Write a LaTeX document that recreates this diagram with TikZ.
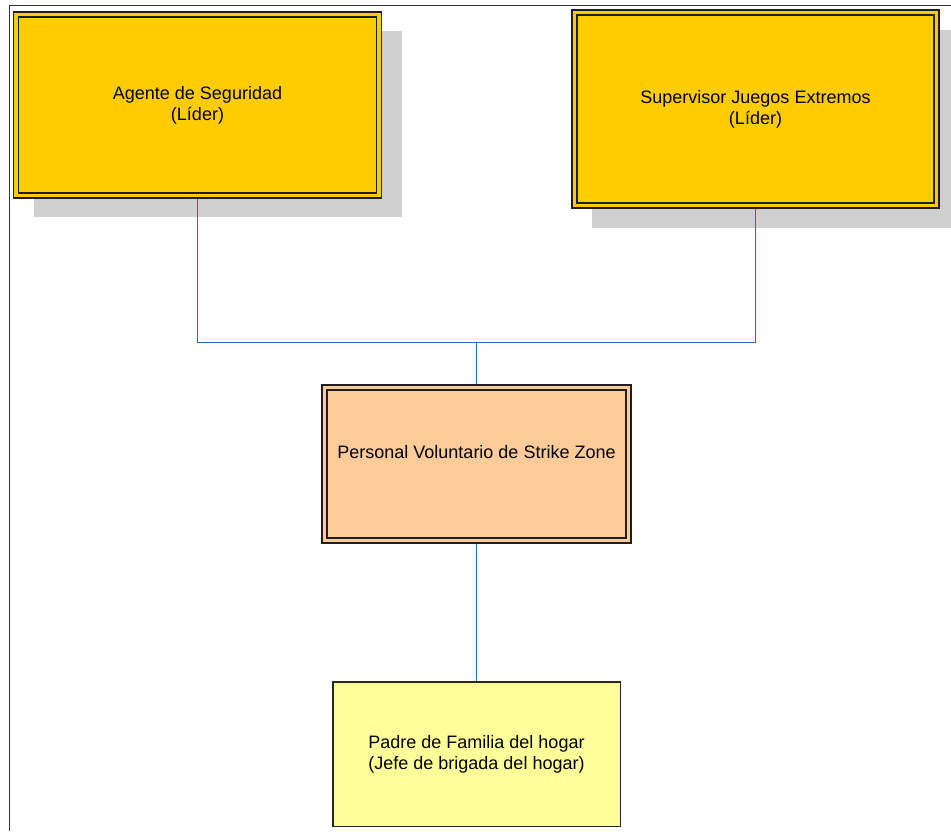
\documentclass[tikz,border=0pt]{standalone}
\usepackage{fontspec}
\setmainfont{Liberation Sans}
\usetikzlibrary{backgrounds,calc}

\definecolor{lidergold}{HTML}{FFCC00}
\definecolor{peach}{HTML}{FFCC99}
\definecolor{paleyellow}{HTML}{FFFF99}
\definecolor{shadowgray}{HTML}{CFCFCF}
\definecolor{linkblue}{HTML}{3366CC}
\definecolor{framegray}{HTML}{333333}

\tikzset{
  orgbox/.style={rectangle, inner sep=0pt, align=center,
    font=\fontsize{18}{21}\selectfont, text=black},
  doublebox/.style={orgbox, draw=black!88, line width=1.3pt,
    double distance=3.7pt, outer sep=2.5pt},
  leaderbox/.style={doublebox, fill=lidergold, double=lidergold},
  staffbox/.style={doublebox, fill=peach, double=peach},
  homebox/.style={orgbox, fill=paleyellow, draw=black!85, line width=1.5pt,
    outer sep=0.75pt},
  shadowbox/.style={fill=shadowgray},
  link/.style={draw=linkblue, line width=1.2pt},
  pageframe/.style={draw=framegray, line width=1.8pt}
}

\begin{document}
\begin{tikzpicture}[x=1pt, y=-1pt]
  \useasboundingbox (0,0) rectangle (951,831);
  \clip (0,0) rectangle (951,831);

  % page frame (top and left edges)
  \draw[pageframe] (951,5.5) -- (9.5,5.5) -- (9.5,831);

  % boxes
  \node[leaderbox, minimum width=363pt, minimum height=181pt]
    (agente) at (197.5,105) {Agente de Seguridad\\(Líder)};
  \node[leaderbox, minimum width=362pt, minimum height=193pt]
    (supervisor) at (755.5,109) {Supervisor Juegos Extremos\\(Líder)};
  \node[staffbox, minimum width=304pt, minimum height=153pt]
    (personal) at (476.5,464) {Personal Voluntario de Strike Zone\\[3pt]\mbox{}};
  \node[homebox, minimum width=287.5pt, minimum height=144.5pt]
    (padre) at (476.5,754) {Padre de Familia del hogar\\(Jefe de brigada del hogar)};

  \coordinate (union) at (476.5,342.5);

  \begin{scope}[on background layer]
    % drop shadows of the leader boxes
    \fill[shadowbox] ([shift={(20,19)}]agente.south west)
      rectangle ([shift={(20,19)}]agente.north east);
    \fill[shadowbox] ([shift={(20,20)}]supervisor.south west)
      rectangle ([shift={(20,20)}]supervisor.north east);

    % connectors
    \draw[link] (agente.south) |- (union) -| (supervisor.south);
    \draw[link] (union) -- (personal.north);
    \draw[link] (personal.south) -- (padre.north);
  \end{scope}
\end{tikzpicture}
\end{document}
